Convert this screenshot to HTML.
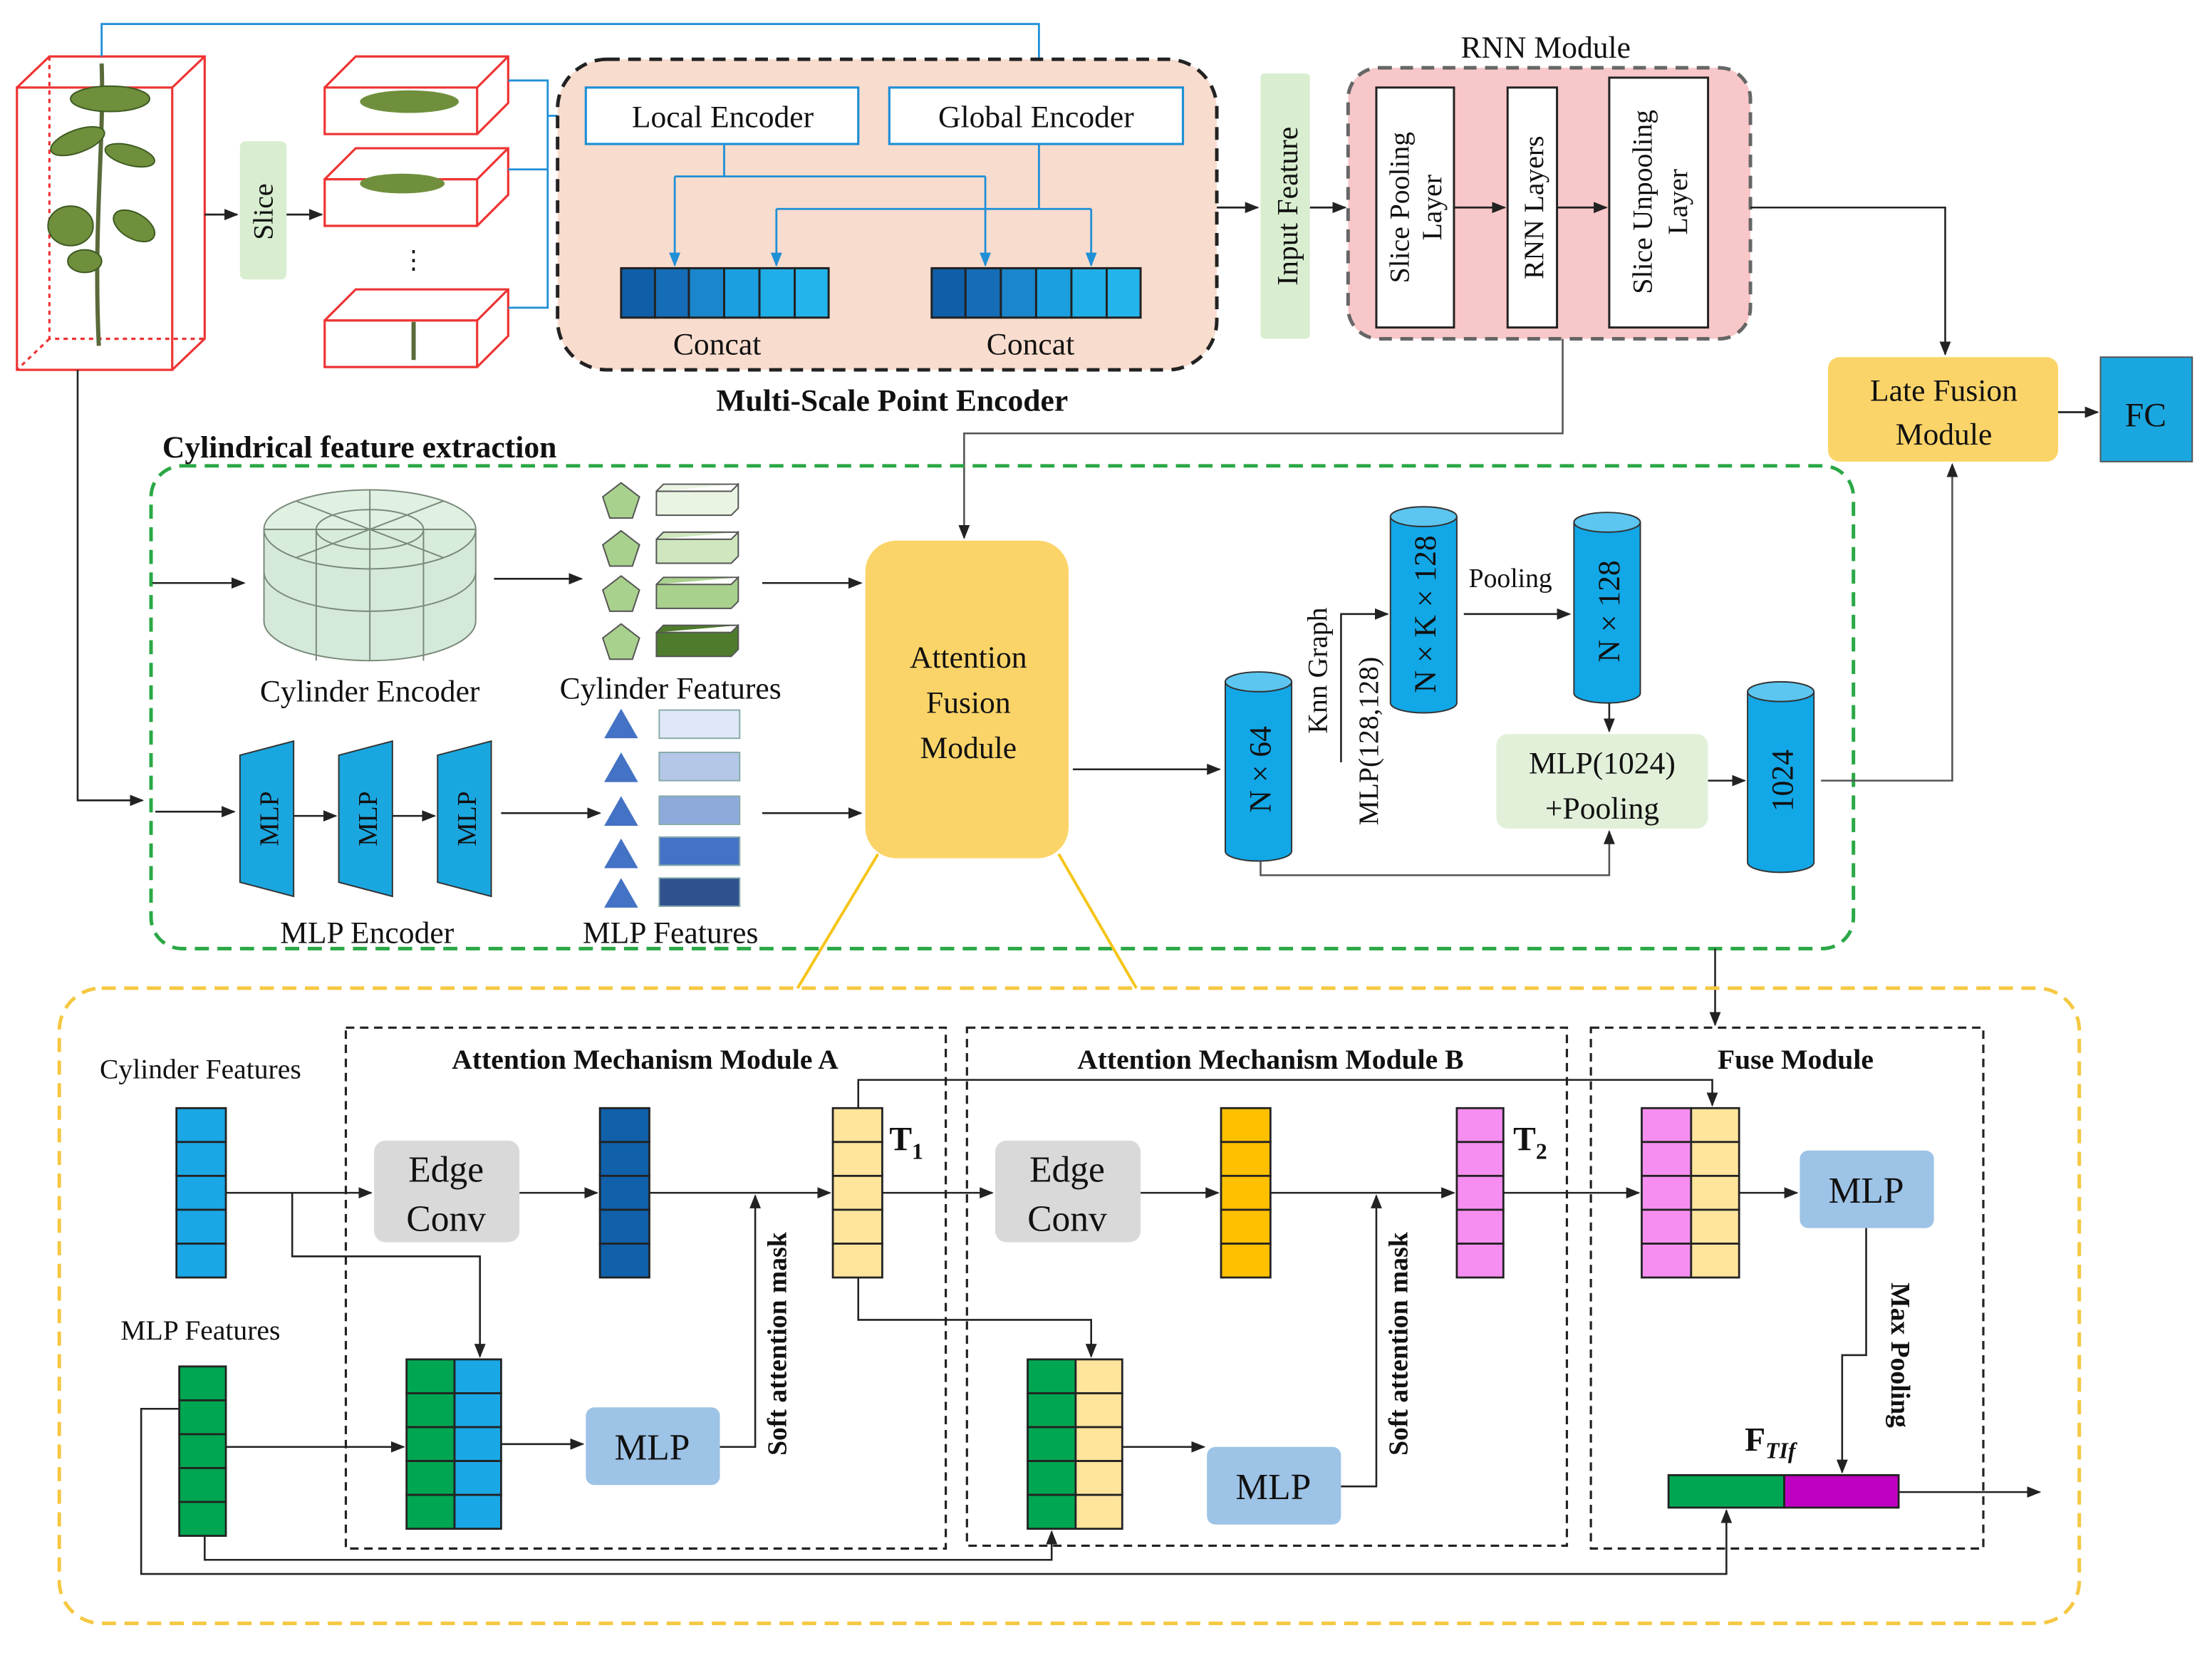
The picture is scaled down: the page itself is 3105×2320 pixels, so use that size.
<!DOCTYPE html>
<html><head><meta charset="utf-8"><style>
html,body{margin:0;padding:0;background:#fff;}
svg{display:block;}
text{font-family:"Liberation Serif",serif;fill:#111;}
</style></head><body>
<svg width="3105" height="2320" viewBox="0 0 1567 1171" preserveAspectRatio="none" xmlns="http://www.w3.org/2000/svg">
<defs>
<marker id="a" markerWidth="10" markerHeight="10" refX="9" refY="5" orient="auto" markerUnits="userSpaceOnUse"><path d="M0,1 L10,5 L0,9 z" fill="#222"/></marker>
<marker id="b" markerWidth="10" markerHeight="10" refX="9" refY="5" orient="auto" markerUnits="userSpaceOnUse"><path d="M0,1 L10,5 L0,9 z" fill="#1f8fd6"/></marker>
</defs>
<rect width="1567" height="1171" fill="#fff"/>

<g stroke="#e33" stroke-width="1.6" fill="none">
<rect x="12" y="62" width="110" height="200"/>
<path d="M12,62 L35,40 L145,40 L145,240 L122,262 M122,62 L145,40"/>
<path d="M35,40 L35,240 L145,240 M35,240 L12,262" stroke-dasharray="3,3"/>
</g>
<path d="M72,45 C74,100 66,160 70,245" stroke="#5a6a3a" stroke-width="3" fill="none"/>
<g fill="#6f8f3c" stroke="#3e5a22" stroke-width="1">
<ellipse cx="78" cy="70" rx="28" ry="9"/><ellipse cx="55" cy="100" rx="20" ry="8" transform="rotate(-20 55 100)"/>
<ellipse cx="92" cy="110" rx="18" ry="7" transform="rotate(15 92 110)"/><ellipse cx="50" cy="160" rx="16" ry="14"/>
<ellipse cx="95" cy="160" rx="16" ry="9" transform="rotate(30 95 160)"/><ellipse cx="60" cy="185" rx="12" ry="8"/>
</g>

<g stroke="#e33" stroke-width="1.6" fill="none">
<path d="M230,62 L338,62 L338,95 L230,95 Z M230,62 L252,40 L360,40 L360,73 L338,95 M338,62 L360,40"/>
<path d="M230,127 L338,127 L338,160 L230,160 Z M230,127 L252,105 L360,105 L360,138 L338,160 M338,127 L360,105"/>
<path d="M230,227 L338,227 L338,260 L230,260 Z M230,227 L252,205 L360,205 L360,238 L338,260 M338,227 L360,205"/>
</g>
<g fill="#6f8f3c"><ellipse cx="290" cy="72" rx="35" ry="8"/><ellipse cx="285" cy="130" rx="30" ry="7"/></g>
<path d="M293,228 L293,255" stroke="#5a6a3a" stroke-width="3"/>
<text x="293" y="190" font-size="18" text-anchor="middle">⋮</text>

<rect x="170" y="100" width="33" height="98" rx="4" fill="#d9eed0"/>
<text transform="translate(193,150) rotate(-90)" font-size="20" text-anchor="middle">Slice</text>

<path d="M72,40 L72,17 L736,17 L736,60" stroke="#1f8fd6" stroke-width="1.4" fill="none" marker-end="url(#b)"/>
<path d="M145,152 L168,152" stroke="#222" stroke-width="1.4" marker-end="url(#a)"/>
<path d="M203,152 L228,152" stroke="#222" stroke-width="1.4" marker-end="url(#a)"/>
<g stroke="#1f8fd6" stroke-width="1.4" fill="none">
<path d="M360,57 L388,57 L388,218 L360,218 M360,120 L388,120"/>
<path d="M388,82 L413,82" marker-end="url(#b)"/>
</g>

<rect x="395" y="42" width="467" height="220" rx="35" fill="#f8dccd" stroke="#222" stroke-width="2.5" stroke-dasharray="9,6"/>
<rect x="415" y="62" width="193" height="40" fill="#fff" stroke="#1f8fd6" stroke-width="1.6"/>
<text x="512" y="90" font-size="22" text-anchor="middle">Local Encoder</text>
<rect x="630" y="62" width="208" height="40" fill="#fff" stroke="#1f8fd6" stroke-width="1.6"/>
<text x="734" y="90" font-size="22" text-anchor="middle">Global Encoder</text>
<g stroke="#1f8fd6" stroke-width="1.4" fill="none">
<path d="M513,102 L513,125 M478,125 L698,125 M736,102 L736,148 M550,148 L773,148"/>
<path d="M478,125 L478,188" marker-end="url(#b)"/><path d="M698,125 L698,188" marker-end="url(#b)"/>
<path d="M550,148 L550,188" marker-end="url(#b)"/><path d="M773,148 L773,188" marker-end="url(#b)"/>
</g>
<g stroke="#222" stroke-width="1.5">
<rect x="440" y="190" width="24" height="35" fill="#0f5fa8"/><rect x="464" y="190" width="24" height="35" fill="#156db8"/><rect x="488" y="190" width="25" height="35" fill="#1a86cc"/><rect x="513" y="190" width="25" height="35" fill="#1aa0e0"/><rect x="538" y="190" width="25" height="35" fill="#20aee8"/><rect x="563" y="190" width="24" height="35" fill="#24b4ec"/>
<rect x="660" y="190" width="24" height="35" fill="#0f5fa8"/><rect x="684" y="190" width="25" height="35" fill="#156db8"/><rect x="709" y="190" width="25" height="35" fill="#1a86cc"/><rect x="734" y="190" width="25" height="35" fill="#1aa0e0"/><rect x="759" y="190" width="25" height="35" fill="#20aee8"/><rect x="784" y="190" width="24" height="35" fill="#24b4ec"/>
</g>
<text x="508" y="251" font-size="22" text-anchor="middle">Concat</text>
<text x="730" y="251" font-size="22" text-anchor="middle">Concat</text>
<text x="632" y="291" font-size="22" font-weight="bold" text-anchor="middle">Multi-Scale Point Encoder</text>

<path d="M862,147 L891,147" stroke="#222" stroke-width="1.4" marker-end="url(#a)"/>
<rect x="893" y="52" width="35" height="188" rx="3" fill="#d9eed0"/>
<text transform="translate(919,146) rotate(-90)" font-size="21" text-anchor="middle">Input Feature</text>
<path d="M928,147 L953,147" stroke="#222" stroke-width="1.4" marker-end="url(#a)"/>

<text x="1095" y="41" font-size="22" text-anchor="middle">RNN Module</text>
<rect x="955" y="48" width="285" height="192" rx="22" fill="#f8c7c9" stroke="#666" stroke-width="2.5" stroke-dasharray="9,6"/>
<rect x="975" y="62" width="55" height="170" fill="#fff" stroke="#222" stroke-width="1.5"/>
<text transform="translate(998,147) rotate(-90)" font-size="20" text-anchor="middle">Slice Pooling</text>
<text transform="translate(1021,147) rotate(-90)" font-size="20" text-anchor="middle">Layer</text>
<rect x="1068" y="62" width="35" height="170" fill="#fff" stroke="#222" stroke-width="1.5"/>
<text transform="translate(1093,147) rotate(-90)" font-size="20" text-anchor="middle">RNN Layers</text>
<rect x="1140" y="55" width="70" height="177" fill="#fff" stroke="#222" stroke-width="1.5"/>
<text transform="translate(1170,143) rotate(-90)" font-size="20" text-anchor="middle">Slice Unpooling</text>
<text transform="translate(1195,143) rotate(-90)" font-size="20" text-anchor="middle">Layer</text>
<path d="M1030,147 L1066,147" stroke="#222" stroke-width="1.4" marker-end="url(#a)"/>
<path d="M1103,147 L1138,147" stroke="#222" stroke-width="1.4" marker-end="url(#a)"/>
<path d="M1240,147 L1378,147 L1378,251" stroke="#222" stroke-width="1.3" fill="none" marker-end="url(#a)"/>
<path d="M1107,240 L1107,307 L683,307 L683,381" stroke="#555" stroke-width="1.3" fill="none" marker-end="url(#a)"/>

<rect x="1295" y="253" width="163" height="74" rx="8" fill="#fbd469"/>
<text x="1377" y="284" font-size="22" text-anchor="middle">Late Fusion</text>
<text x="1377" y="315" font-size="22" text-anchor="middle">Module</text>
<path d="M1458,292 L1486,292" stroke="#222" stroke-width="1.4" marker-end="url(#a)"/>
<rect x="1488" y="253" width="65" height="74" fill="#1aa7e0" stroke="#555" stroke-width="1"/>
<text x="1520" y="302" font-size="24" text-anchor="middle">FC</text>

<text x="115" y="324" font-size="22" font-weight="bold">Cylindrical feature extraction</text>
<rect x="107" y="330" width="1206" height="342" rx="22" fill="none" stroke="#2aa845" stroke-width="2.5" stroke-dasharray="10,6"/>
<path d="M55,262 L55,567 L101,567" stroke="#222" stroke-width="1.3" fill="none" marker-end="url(#a)"/>
<path d="M108,413 L173,413" stroke="#222" stroke-width="1.3" marker-end="url(#a)"/>
<path d="M110,575 L166,575" stroke="#222" stroke-width="1.3" marker-end="url(#a)"/>

<g stroke="#7a8a7a" stroke-width="1" fill="#c9e3cf" fill-opacity="0.8">
<path d="M187,375 L187,440 A75,28 0 0 0 337,440 L337,375"/>
<ellipse cx="262" cy="375" rx="75" ry="28" fill="#d8ecdc"/>
<path d="M187,405 A75,28 0 0 0 337,405" fill="none"/>
<ellipse cx="262" cy="375" rx="38" ry="14" fill="none"/>
<path d="M187,375 L337,375 M262,347 L262,403 M210,355 L314,395 M210,395 L314,355 M224,375 L224,468 M300,375 L300,468 M262,403 L262,468" fill="none"/>
</g>
<text x="262" y="497" font-size="22" text-anchor="middle">Cylinder Encoder</text>
<path d="M350,410 L412,410" stroke="#222" stroke-width="1.3" marker-end="url(#a)"/>
<g stroke="#555" stroke-width="1">
<polygon points="440,342 453,352 448,367 432,367 427,352" fill="#a9d18e"/>
<polygon points="440,376 453,386 448,401 432,401 427,386" fill="#a9d18e"/>
<polygon points="440,408 453,418 448,433 432,433 427,418" fill="#a9d18e"/>
<polygon points="440,442 453,452 448,467 432,467 427,452" fill="#a9d18e"/>
<path d="M465,348 L518,348 L523,343 L523,360 L518,365 L465,365 Z M465,348 L470,343 L523,343" fill="#eaf4e2"/>
<path d="M465,382 L518,382 L523,377 L523,394 L518,399 L465,399 Z M465,382 L470,377 L523,377" fill="#cfe6bf"/>
<path d="M465,414 L518,414 L523,409 L523,426 L518,431 L465,431 Z M465,414 L470,409 L523,409" fill="#a9d18e"/>
<path d="M465,448 L518,448 L523,443 L523,460 L518,465 L465,465 Z M465,448 L470,443 L523,443" fill="#4e7c2c"/>
</g>
<text x="475" y="495" font-size="22" text-anchor="middle">Cylinder Features</text>
<path d="M540,413 L610,413" stroke="#222" stroke-width="1.3" marker-end="url(#a)"/>

<g stroke="#333" stroke-width="1" fill="#1aa7e0">
<polygon points="170,535 208,525 208,635 170,625"/><polygon points="240,535 278,525 278,635 240,625"/><polygon points="310,535 348,525 348,635 310,625"/>
</g>
<text transform="translate(197,580) rotate(-90)" font-size="19" text-anchor="middle">MLP</text>
<text transform="translate(267,580) rotate(-90)" font-size="19" text-anchor="middle">MLP</text>
<text transform="translate(337,580) rotate(-90)" font-size="19" text-anchor="middle">MLP</text>
<path d="M208,578 L238,578" stroke="#222" stroke-width="1.3" marker-end="url(#a)"/>
<path d="M278,578 L308,578" stroke="#222" stroke-width="1.3" marker-end="url(#a)"/>
<text x="260" y="668" font-size="22" text-anchor="middle">MLP Encoder</text>
<path d="M355,576 L425,576" stroke="#222" stroke-width="1.3" marker-end="url(#a)"/>
<g fill="#4472c4">
<polygon points="440,502 452,523 428,523"/><polygon points="440,533 452,554 428,554"/><polygon points="440,564 452,585 428,585"/><polygon points="440,594 452,615 428,615"/><polygon points="440,622 452,643 428,643"/>
</g>
<g stroke="#8aa" stroke-width="1">
<rect x="467" y="503" width="57" height="20" fill="#dfe8f6"/><rect x="467" y="533" width="57" height="20" fill="#b4c7e7"/><rect x="467" y="564" width="57" height="20" fill="#8eaadb"/><rect x="467" y="593" width="57" height="20" fill="#4472c4"/><rect x="467" y="622" width="57" height="20" fill="#2f528f"/>
</g>
<text x="475" y="668" font-size="22" text-anchor="middle">MLP Features</text>
<path d="M540,576 L610,576" stroke="#222" stroke-width="1.3" marker-end="url(#a)"/>

<rect x="613" y="383" width="144" height="225" rx="22" fill="#fbd469"/>
<text x="686" y="473" font-size="22" text-anchor="middle">Attention</text>
<text x="686" y="505" font-size="22" text-anchor="middle">Fusion</text>
<text x="686" y="537" font-size="22" text-anchor="middle">Module</text>
<path d="M760,545 L864,545" stroke="#222" stroke-width="1.3" marker-end="url(#a)"/>

<g stroke="#333" stroke-width="1" fill="#12a7e6">
<path d="M868,483 L868,603 A23.5,7 0 0 0 915,603 L915,483"/><ellipse cx="891.5" cy="483" rx="23.5" ry="7" fill="#5cc6f0"/>
<path d="M985,366 L985,498 A23.5,7 0 0 0 1032,498 L1032,366"/><ellipse cx="1008.5" cy="366" rx="23.5" ry="7" fill="#5cc6f0"/>
<path d="M1115,370 L1115,491 A23.5,7 0 0 0 1162,491 L1162,370"/><ellipse cx="1138.5" cy="370" rx="23.5" ry="7" fill="#5cc6f0"/>
<path d="M1238,490 L1238,611 A23.5,7 0 0 0 1285,611 L1285,490"/><ellipse cx="1261.5" cy="490" rx="23.5" ry="7" fill="#5cc6f0"/>
</g>
<text transform="translate(900,545) rotate(-90)" font-size="22" text-anchor="middle">N × 64</text>
<text transform="translate(1017,435) rotate(-90)" font-size="22" text-anchor="middle">N × K × 128</text>
<text transform="translate(1147,433) rotate(-90)" font-size="22" text-anchor="middle">N × 128</text>
<text transform="translate(1270,553) rotate(-90)" font-size="22" text-anchor="middle">1024</text>
<text transform="translate(940,475) rotate(-90)" font-size="20" text-anchor="middle">Knn Graph</text>
<text transform="translate(976,525) rotate(-90)" font-size="20" text-anchor="middle">MLP(128,128)</text>
<path d="M950,540 L950,435 L983,435" stroke="#222" stroke-width="1.3" fill="none" marker-end="url(#a)"/>
<path d="M1037,435 L1112,435" stroke="#222" stroke-width="1.3" marker-end="url(#a)"/>
<text x="1070" y="416" font-size="19" text-anchor="middle">Pooling</text>
<path d="M1140,498 L1140,518" stroke="#222" stroke-width="1.3" marker-end="url(#a)"/>
<rect x="1060" y="520" width="150" height="67" rx="8" fill="#e2f0d9"/>
<text x="1135" y="548" font-size="22" text-anchor="middle">MLP(1024)</text>
<text x="1135" y="580" font-size="22" text-anchor="middle">+Pooling</text>
<path d="M1210,553 L1236,553" stroke="#222" stroke-width="1.3" marker-end="url(#a)"/>
<path d="M893,610 L893,620 L1140,620 L1140,589" stroke="#555" stroke-width="1.3" fill="none" marker-end="url(#a)"/>
<path d="M1290,553 L1383,553 L1383,329" stroke="#555" stroke-width="1.3" fill="none" marker-end="url(#a)"/>

<path d="M622,605 L565,700 M750,605 L805,700" stroke="#f5c518" stroke-width="2"/>
<path d="M1215,672 L1215,726" stroke="#222" stroke-width="1.3" marker-end="url(#a)"/>

<rect x="42" y="700" width="1431" height="450" rx="30" fill="none" stroke="#f5c842" stroke-width="2.5" stroke-dasharray="10,6"/>
<g fill="none" stroke="#222" stroke-width="1.6" stroke-dasharray="6,4">
<rect x="245" y="728" width="425" height="369"/><rect x="685" y="728" width="425" height="367"/><rect x="1127" y="728" width="278" height="369"/>
</g>
<text x="457" y="757" font-size="20" font-weight="bold" text-anchor="middle">Attention Mechanism Module A</text>
<text x="900" y="757" font-size="20" font-weight="bold" text-anchor="middle">Attention Mechanism Module B</text>
<text x="1272" y="757" font-size="20" font-weight="bold" text-anchor="middle">Fuse Module</text>
<text x="142" y="764" font-size="20" text-anchor="middle">Cylinder Features</text>
<text x="142" y="949" font-size="20" text-anchor="middle">MLP Features</text>

<g stroke="#222" stroke-width="1.4">
<g fill="#1aa7e6"><rect x="125" y="785" width="35" height="24"/><rect x="125" y="809" width="35" height="24"/><rect x="125" y="833" width="35" height="24"/><rect x="125" y="857" width="35" height="24"/><rect x="125" y="881" width="35" height="24"/></g>
<g fill="#1060aa"><rect x="425" y="785" width="35" height="24"/><rect x="425" y="809" width="35" height="24"/><rect x="425" y="833" width="35" height="24"/><rect x="425" y="857" width="35" height="24"/><rect x="425" y="881" width="35" height="24"/></g>
<g fill="#ffe59c"><rect x="590" y="785" width="35" height="24"/><rect x="590" y="809" width="35" height="24"/><rect x="590" y="833" width="35" height="24"/><rect x="590" y="857" width="35" height="24"/><rect x="590" y="881" width="35" height="24"/></g>
<g fill="#ffc000"><rect x="865" y="785" width="35" height="24"/><rect x="865" y="809" width="35" height="24"/><rect x="865" y="833" width="35" height="24"/><rect x="865" y="857" width="35" height="24"/><rect x="865" y="881" width="35" height="24"/></g>
<g fill="#f58ef0"><rect x="1032" y="785" width="33" height="24"/><rect x="1032" y="809" width="33" height="24"/><rect x="1032" y="833" width="33" height="24"/><rect x="1032" y="857" width="33" height="24"/><rect x="1032" y="881" width="33" height="24"/></g>
<g fill="#f58ef0"><rect x="1163" y="785" width="35" height="24"/><rect x="1163" y="809" width="35" height="24"/><rect x="1163" y="833" width="35" height="24"/><rect x="1163" y="857" width="35" height="24"/><rect x="1163" y="881" width="35" height="24"/></g>
<g fill="#ffe59c"><rect x="1198" y="785" width="34" height="24"/><rect x="1198" y="809" width="34" height="24"/><rect x="1198" y="833" width="34" height="24"/><rect x="1198" y="857" width="34" height="24"/><rect x="1198" y="881" width="34" height="24"/></g>
<g fill="#00a651"><rect x="127" y="968" width="33" height="24"/><rect x="127" y="992" width="33" height="24"/><rect x="127" y="1016" width="33" height="24"/><rect x="127" y="1040" width="33" height="24"/><rect x="127" y="1064" width="33" height="24"/></g>
<g fill="#00a651"><rect x="288" y="963" width="34" height="24"/><rect x="288" y="987" width="34" height="24"/><rect x="288" y="1011" width="34" height="24"/><rect x="288" y="1035" width="34" height="24"/><rect x="288" y="1059" width="34" height="24"/></g>
<g fill="#1aa7e6"><rect x="322" y="963" width="33" height="24"/><rect x="322" y="987" width="33" height="24"/><rect x="322" y="1011" width="33" height="24"/><rect x="322" y="1035" width="33" height="24"/><rect x="322" y="1059" width="33" height="24"/></g>
<g fill="#00a651"><rect x="728" y="963" width="34" height="24"/><rect x="728" y="987" width="34" height="24"/><rect x="728" y="1011" width="34" height="24"/><rect x="728" y="1035" width="34" height="24"/><rect x="728" y="1059" width="34" height="24"/></g>
<g fill="#ffe59c"><rect x="762" y="963" width="33" height="24"/><rect x="762" y="987" width="33" height="24"/><rect x="762" y="1011" width="33" height="24"/><rect x="762" y="1035" width="33" height="24"/><rect x="762" y="1059" width="33" height="24"/></g>
<rect x="1182" y="1045" width="82" height="23" fill="#00a651"/><rect x="1264" y="1045" width="81" height="23" fill="#c000c0"/>
</g>

<rect x="265" y="808" width="103" height="72" rx="8" fill="#d9d9d9"/>
<text x="316" y="837" font-size="26" text-anchor="middle">Edge</text><text x="316" y="872" font-size="26" text-anchor="middle">Conv</text>
<rect x="705" y="808" width="103" height="72" rx="8" fill="#d9d9d9"/>
<text x="756" y="837" font-size="26" text-anchor="middle">Edge</text><text x="756" y="872" font-size="26" text-anchor="middle">Conv</text>
<rect x="415" y="997" width="95" height="55" rx="6" fill="#9dc3e6"/><text x="462" y="1034" font-size="26" text-anchor="middle">MLP</text>
<rect x="855" y="1025" width="95" height="55" rx="6" fill="#9dc3e6"/><text x="902" y="1062" font-size="26" text-anchor="middle">MLP</text>
<rect x="1275" y="815" width="95" height="55" rx="6" fill="#9dc3e6"/><text x="1322" y="852" font-size="26" text-anchor="middle">MLP</text>

<text x="630" y="815" font-size="24" font-weight="bold">T<tspan font-size="16" dy="6">1</tspan></text>
<text x="1072" y="815" font-size="24" font-weight="bold">T<tspan font-size="16" dy="6">2</tspan></text>
<text x="1236" y="1028" font-size="24" font-weight="bold">F<tspan font-size="16" dy="5" font-style="italic">TIf</tspan></text>
<text transform="translate(557,952) rotate(-90)" font-size="19" font-weight="bold" text-anchor="middle">Soft attention mask</text>
<text transform="translate(997,952) rotate(-90)" font-size="19" font-weight="bold" text-anchor="middle">Soft attention mask</text>
<text transform="translate(1340,960) rotate(90)" font-size="19" font-weight="bold" text-anchor="middle">Max  Pooling</text>

<g stroke="#222" stroke-width="1.3" fill="none">
<path d="M160,845 L263,845" marker-end="url(#a)"/>
<path d="M207,845 L207,890 L340,890 L340,961" marker-end="url(#a)"/>
<path d="M368,845 L423,845" marker-end="url(#a)"/>
<path d="M460,845 L588,845" marker-end="url(#a)"/>
<path d="M510,1025 L535,1025 L535,847" marker-end="url(#a)"/>
<path d="M355,1023 L413,1023" marker-end="url(#a)"/>
<path d="M160,1025 L286,1025" marker-end="url(#a)"/>
<path d="M127,998 L100,998 L100,1115 L1223,1115 L1223,1070" marker-end="url(#a)"/>
<path d="M145,1088 L145,1105 L745,1105 L745,1085" marker-end="url(#a)"/>
<path d="M625,845 L703,845" marker-end="url(#a)"/>
<path d="M608,785 L608,765 L1213,765 L1213,783" marker-end="url(#a)"/>
<path d="M608,905 L608,935 L773,935 L773,961" marker-end="url(#a)"/>
<path d="M808,845 L863,845" marker-end="url(#a)"/>
<path d="M900,845 L1030,845" marker-end="url(#a)"/>
<path d="M950,1053 L975,1053 L975,847" marker-end="url(#a)"/>
<path d="M795,1025 L853,1025" marker-end="url(#a)"/>
<path d="M1065,845 L1161,845" marker-end="url(#a)"/>
<path d="M1232,845 L1273,845" marker-end="url(#a)"/>
<path d="M1322,870 L1322,960 L1305,960 L1305,1043" marker-end="url(#a)"/>
<path d="M1345,1057 L1445,1057" marker-end="url(#a)"/>
</g>
</svg>
</body></html>
